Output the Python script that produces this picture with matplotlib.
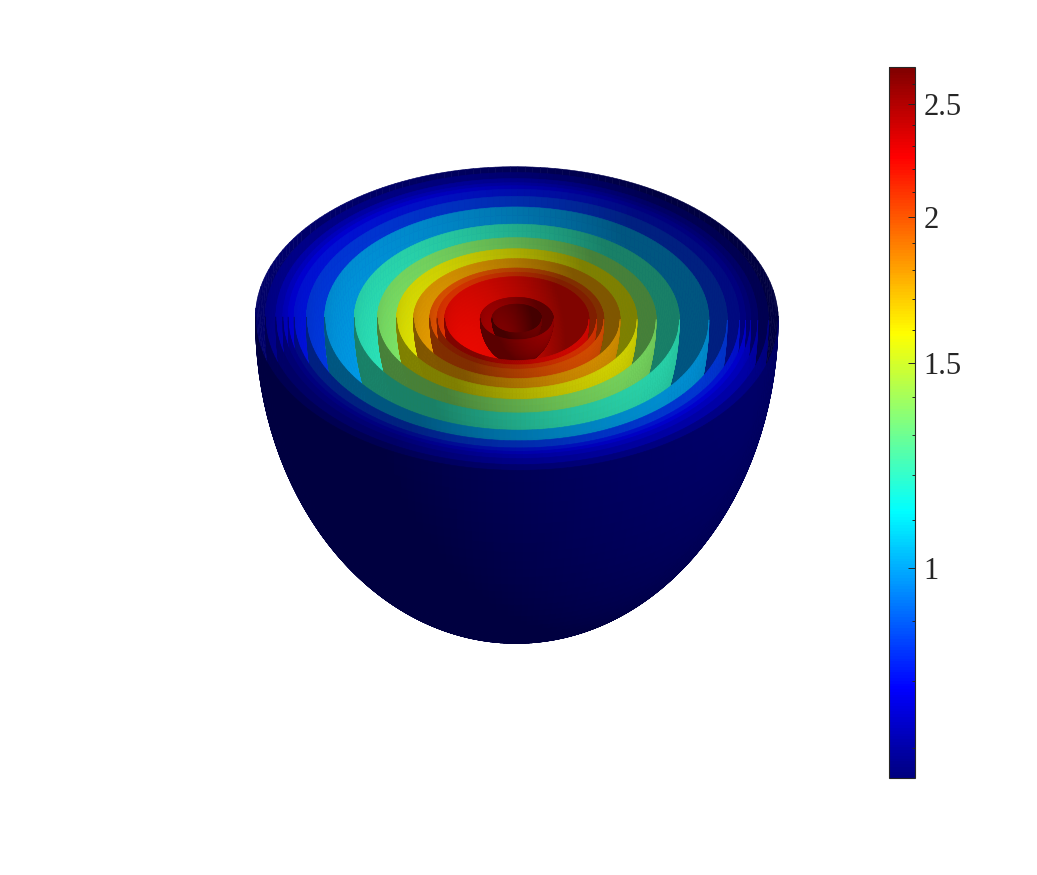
import numpy as np
import matplotlib
matplotlib.use('Agg')
from matplotlib import pyplot as plt
from matplotlib.colors import LinearSegmentedColormap, LogNorm
from matplotlib.cm import ScalarMappable
from matplotlib.ticker import FixedLocator, NullFormatter
from mpl_toolkits.mplot3d.art3d import Poly3DCollection

plt.rcParams['font.family'] = ['Liberation Serif', 'DejaVu Serif']

# rim radius of each nested bowl (outer one = 1) and its value
rim_radii = [1.0, 0.962, 0.922, 0.895, 0.875, 0.852, 0.805, 0.735, 0.622, 0.533,
             0.46, 0.395, 0.333, 0.305, 0.276, 0.14, 0.095]
shell_values = [0.66, 0.697, 0.735, 0.76, 0.785, 0.81, 0.86, 1.0, 1.2, 1.36,
                1.58, 1.78, 1.98, 2.07, 2.23, 2.5, 2.65]

major_ticks = [1, 1.5, 2, 2.5]
major_labels = ['1', '1.5', '2', '2.5']
minor_ticks = [0.7, 0.8, 0.9, 1.1, 1.2, 1.3, 1.4, 1.6, 1.7, 1.8, 1.9,
               2.1, 2.2, 2.3, 2.4, 2.6]
vmin, vmax = 0.66, 2.69

DEPTH = 1.35   # depth of a bowl over its rim radius
ELEV = 35.5
ROLL = -0.4
LIGHT = np.array([0.65, -0.4, 0.65])
AMBIENT, DIFFUSE = 0.5, 0.42

jet = LinearSegmentedColormap.from_list('mjet', [
    (0, (0, 0, 0.5)), (0.125, (0, 0, 1)), (0.375, (0, 1, 1)),
    (0.625, (1, 1, 0)), (0.875, (1, 0, 0)), (1, (0.5, 0, 0))], N=256)
norm = LogNorm(vmin, vmax)


def bowl_faces(r, value, nt=220, np_=40):
    '''Quads of one half ellipsoid, split in faces whose inside is seen
        and faces whose outside is seen, with their lit colours.'''
    t = np.linspace(0, 2*np.pi, nt+1)
    p = np.linspace(0, np.pi/2, np_+1)
    T, P = np.meshgrid(t, p)
    X = r*np.cos(T)*np.sin(P)
    Y = r*np.sin(T)*np.sin(P)
    Z = -DEPTH*r*np.cos(P)
    quads = np.stack([
        np.stack([X[:-1, :-1], Y[:-1, :-1], Z[:-1, :-1]], -1),
        np.stack([X[:-1, 1:], Y[:-1, 1:], Z[:-1, 1:]], -1),
        np.stack([X[1:, 1:], Y[1:, 1:], Z[1:, 1:]], -1),
        np.stack([X[1:, :-1], Y[1:, :-1], Z[1:, :-1]], -1)], 2).reshape(-1, 4, 3)
    cen = quads.mean(axis=1)
    n = cen/np.array([r**2, r**2, (DEPTH*r)**2])
    n = n/np.linalg.norm(n, axis=1, keepdims=True)
    e = np.radians(ELEV)
    view = np.array([0, -np.cos(e), np.sin(e)])
    outside = n.dot(view) > 0
    n[~outside] *= -1
    light = LIGHT/np.linalg.norm(LIGHT)
    shade = AMBIENT + DIFFUSE*np.clip(n.dot(light), 0, 1)
    rgb = np.array(jet(norm(value)))[:3]*np.clip(shade, 0, 1)[:, None]
    return quads, rgb, outside


W, H = 1037.0, 875.0
fig = plt.figure(figsize=(10.37, 8.75), dpi=100)
ax = fig.add_axes([-14.5/W, -36.5/H, 1.0, 1.0], projection='3d', computed_zorder=False)
ax.set_proj_type('ortho')
ax.view_init(elev=ELEV, azim=-90, roll=ROLL)
ax.set_xlim(-1, 1)
ax.set_ylim(-1, 1)
ax.set_zlim(-DEPTH, 0)
ax.set_box_aspect((2, 2, DEPTH), zoom=0.909)
ax.set_axis_off()

z = 1
faces = [bowl_faces(r, v) for r, v in zip(rim_radii, shell_values)]
# seen insides from the outer bowl in, then seen outsides from the inner bowl out
for quads, rgb, outside in faces:
    pc = Poly3DCollection(quads[~outside], facecolors=rgb[~outside],
                          edgecolors=rgb[~outside], linewidths=0.4, zorder=z)
    ax.add_collection3d(pc)
    z += 1
for quads, rgb, outside in faces[::-1]:
    pc = Poly3DCollection(quads[outside], facecolors=rgb[outside],
                          edgecolors=rgb[outside], linewidths=0.4, zorder=z)
    ax.add_collection3d(pc)
    z += 1

cax = fig.add_axes([889/W, 1-778/H, 26/W, 711/H])
cb = fig.colorbar(ScalarMappable(norm=norm, cmap=jet), cax=cax)
cb.set_ticks(major_ticks)
cb.set_ticklabels(major_labels)
cax.yaxis.set_minor_locator(FixedLocator(minor_ticks))
cax.yaxis.set_minor_formatter(NullFormatter())
cax.tick_params(axis='y', which='major', direction='in', length=5, width=0.7,
                color='#262626', labelcolor='#262626', labelsize=22, pad=6)
cax.tick_params(axis='y', which='minor', direction='in', length=2.5, width=0.7,
                color='#262626')
cb.outline.set_edgecolor('#262626')
cb.outline.set_linewidth(0.8)

fig.savefig('out.png', dpi=100)
